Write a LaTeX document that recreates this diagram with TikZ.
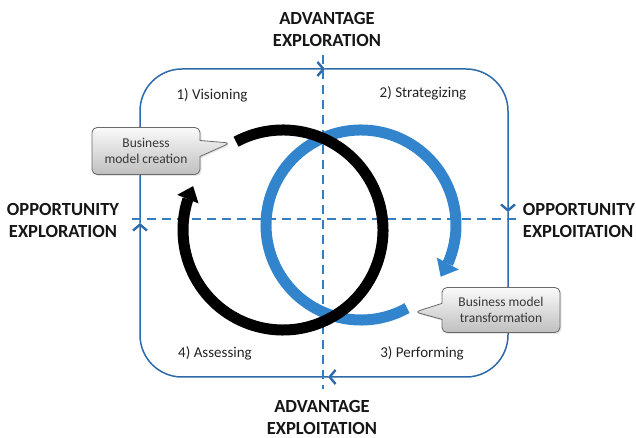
\documentclass[tikz,border=0pt]{standalone}
\usepackage{fontspec}
\setmainfont{Carlito}
\usetikzlibrary{arrows.meta,bending,shapes.callouts,shadows}
\definecolor{frameblue}{RGB}{46,106,170}
\definecolor{axisblue}{RGB}{52,125,192}
\definecolor{loopblue}{RGB}{50,132,204}
\definecolor{labelgray}{RGB}{22,22,22}
\definecolor{textgray}{RGB}{35,35,35}
\definecolor{bubbletext}{RGB}{55,55,55}
\definecolor{bubbleborder}{RGB}{105,105,105}

\begin{document}
\begin{tikzpicture}[x=1pt, y=1pt,
		frame/.style={draw=frameblue, line width=1.5pt, rounded corners=42pt,
			-{Straight Barb[length=6pt, width=14pt, line width=2.4pt]}},
		axisline/.style={draw=axisblue, line width=2.6pt, dash pattern=on 9pt off 6pt},
		axislabel/.style={font=\fontsize{18.5}{22}\selectfont\bfseries, text=labelgray, align=center},
		phase/.style={font=\fontsize{15}{18}\selectfont, text=textgray},
		bubble/.style={rectangle callout, rounded corners=5pt, draw=bubbleborder, line width=0.8pt,
			top color=white!96!gray, bottom color=gray!50, callout pointer width=16pt,
			drop shadow={opacity=0.2, shadow xshift=1.5pt, shadow yshift=-1.5pt},
			font=\fontsize{13.5}{16}\selectfont, text=bubbletext, align=center, inner sep=0pt},
		loop/.style={line width=11pt}
	]
		\useasboundingbox (0, 0) rectangle (636, 438);
		\coordinate (L) at (140, 215);
		\coordinate (T) at (325, 369);
		\coordinate (R) at (508, 226);
		\coordinate (B) at (328, 61);
		\draw[frame] (L) |- (T);
		\draw[frame] (T) -| (R);
		\draw[frame] (R) |- (B);
		\draw[frame] (B) -| (L);
		\coordinate (hw) at (132, 219);
		\coordinate (he) at (520, 219);
		\coordinate (vn) at (323, 383);
		\coordinate (vs) at (323, 49);
		\draw[axisline] (hw) -- (he);
		\draw[axisline] (vn) -- (vs);
		\coordinate (bluec) at (361, 213);
		\coordinate (blackc) at (283, 208);
		\draw[loop, draw=loopblue, -{Triangle[width=25pt, length=15pt, line width=0pt]}]
			([shift={(-61:95)}]bluec) arc[start angle=-61, end angle=-393, radius=95];
		\draw[loop, draw=black, -{Triangle[width=23pt, length=14pt, line width=0pt]}]
			([shift={(118:100)}]blackc) arc[start angle=118, end angle=-206, radius=100];
		\node[axislabel] (advexplore) at (327, 408) {ADVANTAGE\\EXPLORATION};
		\node[axislabel] (advexploit) at (322, 21) {ADVANTAGE\\EXPLOITATION};
		\node[axislabel] (oppexplore) at (63, 217) {OPPORTUNITY\\EXPLORATION};
		\node[axislabel, align=left] (oppexploit) at (579, 217) {OPPORTUNITY\\EXPLOITATION};
		\node[phase] (vision) at (212, 343) {1) Visioning};
		\node[phase] (strategy) at (423, 345) {2) Strategizing};
		\node[phase] (perform) at (422, 85) {3) Performing};
		\node[phase] (assess) at (215, 85) {4) Assessing};
		\coordinate (creationtip) at (230, 295);
		\coordinate (transformtip) at (415, 126);
		\node[bubble, minimum width=108pt, minimum height=47pt, callout absolute pointer={(creationtip)}]
			(creation) at (146, 287) {Business\\model creation};
		\node[bubble, minimum width=118pt, minimum height=45pt, callout absolute pointer={(transformtip)}]
			(transform) at (501, 128) {Business model\\transformation};
	\end{tikzpicture}
\end{document}
